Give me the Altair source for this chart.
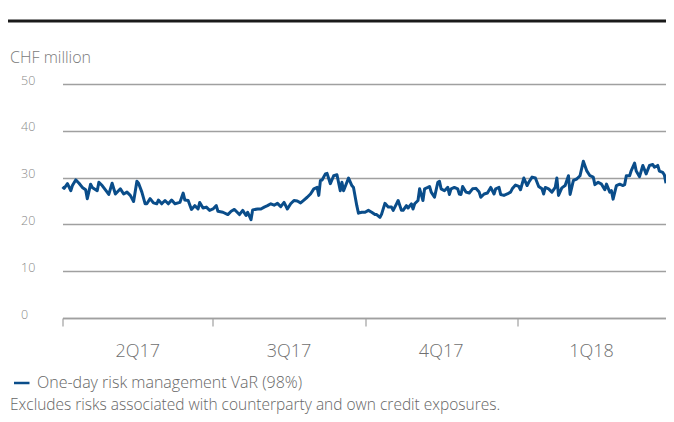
import altair as alt
import pandas as pd

# Day offset from 1 Apr 2017 and one-day VaR (CHF million)
days = [0, 1, 3, 5, 6, 8, 10, 12, 14, 15, 17, 18, 21, 22, 24, 27, 28, 30, 32, 35,
        37, 39, 41, 43, 45, 46, 48, 50, 51, 53, 55, 57, 58, 60, 62, 64, 66, 68, 71, 73,
        74, 76, 78, 80, 82, 83, 85, 87, 89, 91, 93, 94, 97, 100, 102, 104, 107, 109, 111, 112,
        114, 115, 118, 120, 122, 124, 126, 128, 130, 132, 134, 136, 138, 140, 142, 144, 146, 148, 150, 152,
        154, 155, 156, 157, 159, 160, 162, 164, 166, 168, 169, 170, 172, 173, 175, 176, 178, 179, 181, 183,
        185, 187, 189, 190, 192, 193, 195, 197, 199, 200, 202, 203, 205, 206, 208, 209, 211, 212, 213, 215,
        216, 218, 219, 221, 222, 223, 225, 227, 228, 229, 231, 233, 234, 235, 237, 239, 240, 241, 242, 244,
        246, 248, 250, 252, 253, 255, 257, 259, 261, 262, 264, 265, 267, 269, 271, 272, 274, 276, 277, 279,
        281, 282, 284, 286, 288, 290, 291, 292, 294, 296, 298, 299, 300, 302, 304, 306, 307, 309, 311, 313,
        315, 317, 319, 321, 322, 324, 326, 328, 329, 331, 332, 333, 335, 337, 339, 340, 341, 343, 344, 346,
        347, 349, 351, 353, 355, 357, 358, 360, 361, 363, 364, 365]
var = [28.0, 27.7, 28.7, 27.2, 28.3, 29.5, 28.8, 27.9, 27.4, 25.5, 28.6, 27.9, 27.2, 29.0, 28.3, 26.9, 26.4, 28.8, 26.5, 27.6,
       26.5, 26.9, 26.2, 24.9, 29.2, 28.8, 26.9, 24.4, 24.4, 25.5, 24.6, 24.4, 25.2, 24.4, 25.1, 24.4, 25.2, 24.4, 24.7, 26.7,
       25.2, 25.1, 23.2, 24.0, 23.3, 24.7, 23.5, 23.7, 23.0, 23.3, 24.0, 22.8, 22.6, 22.1, 22.8, 23.2, 22.1, 23.0, 21.9, 22.6,
       21.0, 23.1, 23.3, 23.3, 23.7, 24.0, 24.4, 24.1, 24.5, 23.8, 24.7, 23.3, 24.4, 25.1, 25.0, 24.6, 25.2, 25.8, 26.5, 27.6,
       27.9, 26.2, 29.4, 29.5, 30.8, 30.9, 28.7, 30.4, 30.6, 27.2, 29.0, 27.2, 29.0, 29.9, 28.3, 27.9, 24.0, 22.4, 22.6, 22.6,
       23.0, 22.6, 22.1, 22.1, 21.5, 22.2, 24.5, 23.7, 23.7, 23.0, 24.4, 25.1, 23.0, 23.0, 24.0, 23.5, 24.4, 23.3, 24.4, 25.1,
       27.6, 25.1, 27.6, 27.9, 28.1, 26.9, 25.8, 29.0, 29.2, 27.6, 27.2, 27.9, 26.4, 27.6, 27.9, 27.6, 26.5, 26.4, 28.1, 26.9,
       26.7, 27.6, 27.7, 26.9, 25.8, 26.5, 26.7, 27.9, 26.5, 27.6, 27.9, 26.4, 26.2, 26.5, 26.9, 27.6, 28.4, 28.1, 27.4, 29.9,
       28.3, 29.0, 30.1, 29.9, 28.1, 27.6, 26.5, 27.9, 27.6, 26.9, 27.9, 29.9, 26.2, 27.8, 28.3, 30.4, 26.4, 29.4, 29.7, 30.4,
       33.5, 31.5, 30.4, 30.1, 28.5, 29.0, 28.6, 27.4, 28.6, 26.9, 27.2, 25.4, 28.3, 28.6, 28.3, 28.5, 30.4, 30.4, 31.5, 33.1,
       31.4, 30.2, 32.6, 30.8, 32.6, 32.8, 32.2, 32.6, 31.4, 31.1, 30.6, 28.8]

quarter_labels = ["2Q17", "3Q17", "4Q17", "1Q18"]
quarter_mid = [45.5, 137, 229, 320]
quarter_edges = [0, 91, 183, 275, 365]
y_ticks = [0, 10, 20, 30, 40, 50]

FONT = "Open Sans"
BLUE = "#0a4d8a"
GRID = "#a0a0a0"

df = pd.DataFrame({"day": days, "var": var})
qdf = pd.DataFrame({"q": quarter_labels, "mid": quarter_mid})

xscale = alt.Scale(domain=[0, 365], nice=False, zero=False)
yscale = alt.Scale(domain=[0, 50], nice=False)

line = alt.Chart(df).mark_line(color=BLUE, strokeWidth=3, strokeJoin="round").encode(
    x=alt.X("day:Q", scale=xscale,
            axis=alt.Axis(values=quarter_edges, labels=False, grid=False, title=None,
                          domainColor=GRID, domainWidth=1.5, tickColor=GRID,
                          tickWidth=1.2, tickSize=8)),
    y=alt.Y("var:Q", scale=yscale,
            axis=alt.Axis(values=y_ticks, grid=True, gridColor=GRID, gridWidth=1.5,
                          domain=False, ticks=False, tickSize=0, title=None,
                          labelAlign="left", labelBaseline="alphabetic", labelPadding=42,
                          labelFont=FONT, labelFontSize=12.5, labelColor="#8a8a8a",
                          labelFontWeight=300)),
)

qlabels = alt.Chart(qdf).mark_text(font=FONT, fontSize=18, fontWeight=300, color="#707070",
                                   baseline="middle", align="center").encode(
    x=alt.X("mid:Q", scale=xscale),
    y=alt.value(268),
    text="q:N",
)

one = pd.DataFrame({"k": [0]})
top_rule = alt.Chart(one).mark_rule(color="#1a1a1a", strokeWidth=3).encode(
    x=alt.value(-55), x2=alt.value(604), y=alt.value(-63))
unit = alt.Chart(one).mark_text(font=FONT, fontSize=16, fontWeight=300, color="#7a7a7a",
                                align="left", baseline="middle").encode(
    x=alt.value(-52.5), y=alt.value(-26), text=alt.value("CHF  million"))
leg_line = alt.Chart(one).mark_rule(color=BLUE, strokeWidth=2.5).encode(
    x=alt.value(-48.5), x2=alt.value(-33), y=alt.value(299))
leg_text = alt.Chart(one).mark_text(font=FONT, fontSize=16, fontWeight=300, color="#666666",
                                    align="left", baseline="middle").encode(
    x=alt.value(-25.5), y=alt.value(299), text=alt.value("One-day risk management VaR (98%)"))
foot = alt.Chart(one).mark_text(font=FONT, fontSize=15.5, fontWeight=300, color="#666666",
                                align="left", baseline="alphabetic").encode(
    x=alt.value(-52.5), y=alt.value(325.5),
    text=alt.value("Excludes risks associated with counterparty and own credit exposures."))

chart = alt.layer(line, qlabels, top_rule, unit, leg_line, leg_text, foot).properties(
    width=603.5, height=234,
    autosize=alt.AutoSizeParams(type="none"),
    padding={"left": 54.5, "top": 76, "right": 0, "bottom": 96},
).configure_view(stroke=None)

chart.save("out.html", embed_options={"renderer": "svg", "actions": False})
